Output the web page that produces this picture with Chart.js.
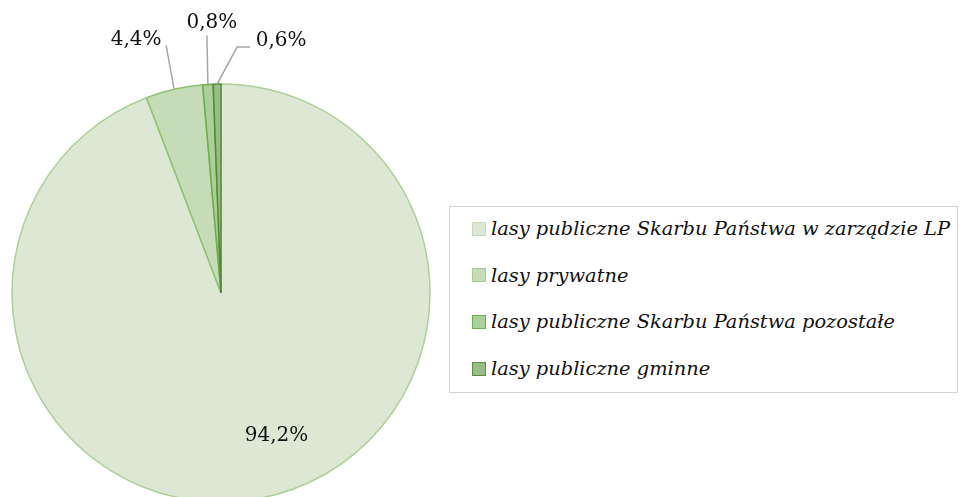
<!DOCTYPE html>
<html lang="pl">
<head>
<meta charset="utf-8">
<title>Struktura własności lasów</title>
<script src="https://cdn.jsdelivr.net/npm/chart.js@4.4.1/dist/chart.umd.min.js"></script>
<style>
  html, body { margin: 0; padding: 0; background: #ffffff; width: 966px; height: 497px; overflow: hidden; }
  #wrap { position: absolute; left: 0; top: 0; width: 966px; height: 586px; }
  #legend {
    position: absolute; left: 449px; top: 206px;
    border: 1.5px solid #d4d4d4; box-sizing: border-box;
    padding: 0 7px 0 22px; background: #ffffff;
    font-family: "DejaVu Serif", serif; font-style: italic; font-size: 19.4px; color: #111;
  }
  #legend .row { height: 46.6px; display: flex; align-items: center; white-space: nowrap; }
  #legend .row:first-child { margin-top: -1.5px; }
  #legend .box { width: 12px; height: 12px; border: 1.5px solid; margin-right: 5px; flex: none; }
</style>
</head>
<body>
<div id="wrap"><canvas id="pie" width="966" height="586"></canvas></div>
<div id="legend"></div>
<script>
// Udział form własności w powierzchni lasów (%)
const categories = [
  'lasy publiczne Skarbu Państwa w zarządzie LP',
  'lasy prywatne',
  'lasy publiczne Skarbu Państwa pozostałe',
  'lasy publiczne gminne'
];
const shares = [94.2, 4.4, 0.8, 0.6];
const valueLabels = ['94,2%', '4,4%', '0,8%', '0,6%'];

const fillColors   = ['#dce8d4', '#c6dcb8', '#abcf98', '#97bc85'];
const borderColors = ['#acd097', '#8cc26f', '#6eab4a', '#558838'];
const markerBorders = ['#c6dbba', '#a6cc91', '#70ad47', '#5b8c3e'];

// Placement of each value label: offset from the anchor point on the slice,
// optional leader line (elbow points relative to the anchor).
const labelPlacement = [
  { radius: 0.7, dx: 29, dy: -1, leader: null },
  { radius: 1.0, dx: -38, dy: -50, leader: [[-8, -44]] },
  { radius: 1.0, dx: 4, dy: -62, leader: [[-1, -49]] },
  { radius: 1.0, dx: 64, dy: -43, leader: [[20, -37], [33, -37]] }
];

const valueLabelPlugin = {
  id: 'valueLabels',
  afterDatasetsDraw(chart) {
    const ctx = chart.ctx;
    const arcs = chart.getDatasetMeta(0).data;
    ctx.save();
    ctx.font = '20px "DejaVu Serif", serif';
    ctx.fillStyle = '#111111';
    ctx.textAlign = 'center';
    ctx.textBaseline = 'middle';
    arcs.forEach((arc, i) => {
      const p = arc.getProps(['x', 'y', 'startAngle', 'endAngle', 'outerRadius'], true);
      const mid = (p.startAngle + p.endAngle) / 2;
      const place = labelPlacement[i];
      const r = p.outerRadius * place.radius;
      const ax = p.x + Math.cos(mid) * r;
      const ay = p.y + Math.sin(mid) * r;
      if (place.leader) {
        ctx.beginPath();
        ctx.strokeStyle = '#a6a6a6';
        ctx.lineWidth = 1.5;
        ctx.moveTo(ax, ay);
        place.leader.forEach(([lx, ly]) => ctx.lineTo(ax + lx, ay + ly));
        ctx.stroke();
      }
      ctx.fillText(valueLabels[i], ax + place.dx, ay + place.dy);
    });
    ctx.restore();
  }
};

new Chart(document.getElementById('pie'), {
  type: 'pie',
  data: {
    labels: categories,
    datasets: [{
      data: shares,
      backgroundColor: fillColors,
      borderColor: borderColors,
      borderWidth: 1.5
    }]
  },
  options: {
    responsive: false,
    animation: false,
    devicePixelRatio: 1,
    radius: 209,
    layout: { padding: { left: 0, top: 0, bottom: 0, right: 524 } },
    plugins: {
      legend: { display: false },
      tooltip: { enabled: false }
    }
  },
  plugins: [valueLabelPlugin]
});

// Legend built from the same categories and colours
const legend = document.getElementById('legend');
categories.forEach((name, i) => {
  const row = document.createElement('div');
  row.className = 'row';
  const box = document.createElement('span');
  box.className = 'box';
  box.style.background = fillColors[i];
  box.style.borderColor = markerBorders[i];
  const txt = document.createElement('span');
  txt.textContent = name;
  row.appendChild(box);
  row.appendChild(txt);
  legend.appendChild(row);
});
</script>
</body>
</html>
